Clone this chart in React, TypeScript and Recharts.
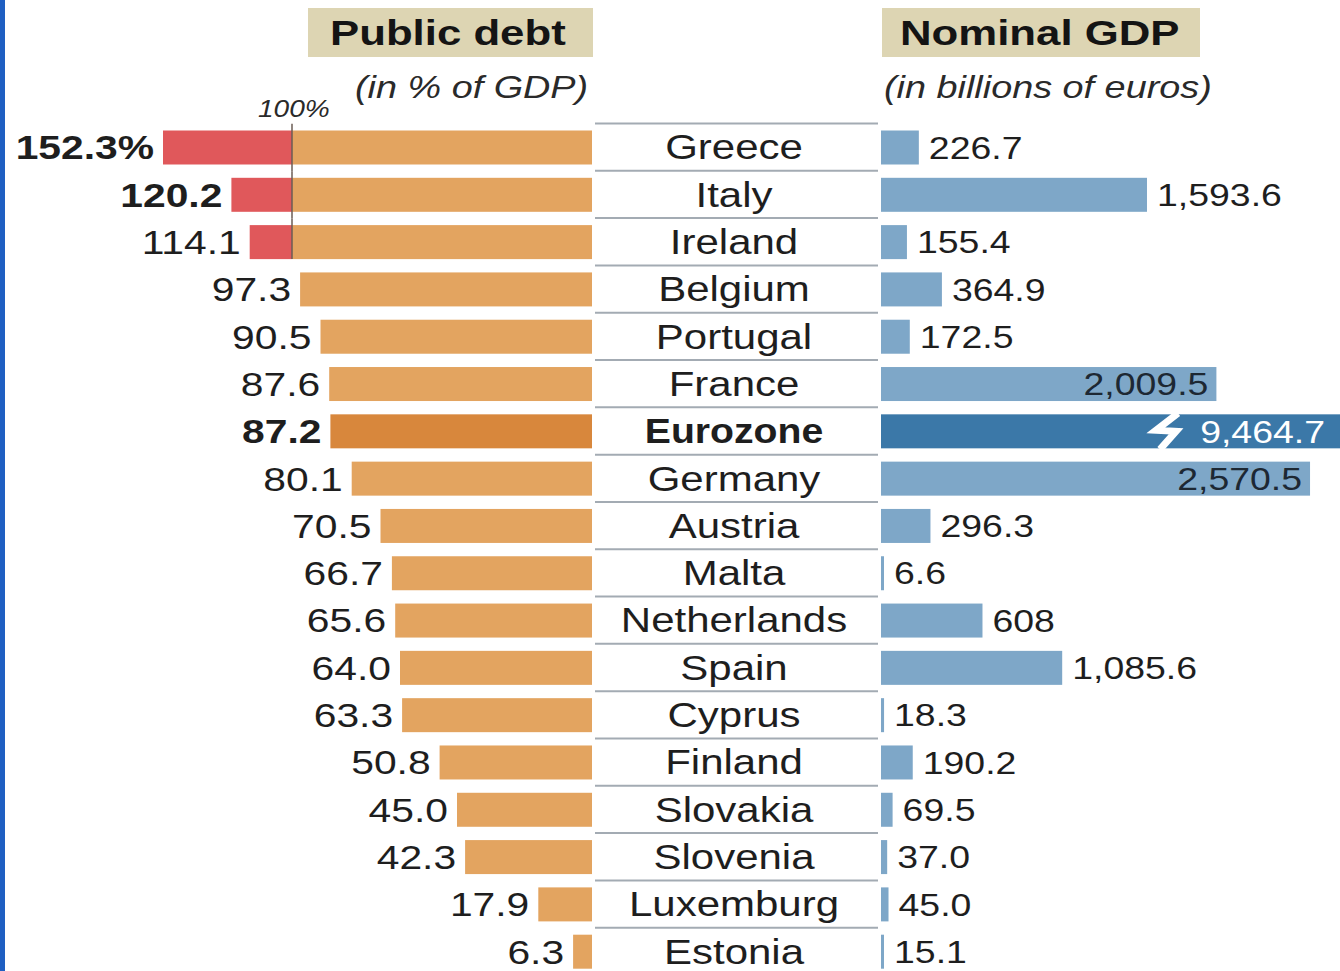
import React from 'react';
import { BarChart, Bar, XAxis, YAxis } from 'recharts';

const countries = ['Greece', 'Italy', 'Ireland', 'Belgium', 'Portugal', 'France', 'Eurozone', 'Germany', 'Austria', 'Malta', 'Netherlands', 'Spain', 'Cyprus', 'Finland', 'Slovakia', 'Slovenia', 'Luxemburg', 'Estonia'];
const debt = [152.3, 120.2, 114.1, 97.3, 90.5, 87.6, 87.2, 80.1, 70.5, 66.7, 65.6, 64.0, 63.3, 50.8, 45.0, 42.3, 17.9, 6.3];
const gdp = [226.7, 1593.6, 155.4, 364.9, 172.5, 2009.5, 9464.7, 2570.5, 296.3, 6.6, 608, 1085.6, 18.3, 190.2, 69.5, 37.0, 45.0, 15.1];
const gdpLabels = ['226.7', '1,593.6', '155.4', '364.9', '172.5', '2,009.5', '9,464.7', '2,570.5', '296.3', '6.6', '608', '1,085.6', '18.3', '190.2', '69.5', '37.0', '45.0', '15.1'];
const boldDebt = ['Greece', 'Italy', 'Eurozone'];
const HIGHLIGHT = 'Eurozone';

const DEBT_MAX = 143;
const GDP_MAX = 2750;
const THRESHOLD = 100;

const H = 975;
const TOP = 123.5;
const ROW = (H - TOP) / countries.length;
const BAR = 34;
const FONT = 'Liberation Sans, Arial, Helvetica, sans-serif';
const RIGHT_W = 460;

const data = countries.map((c, i) => ({ country: c, debt: debt[i], gdp: gdp[i] }));

const STxt = ({ x, y, sx = 1.2, anchor = 'start', size = 34, weight = 400, fill = '#1e1e1e', italic = false, children }: any) => (
  <text
    transform={`translate(${x},${y}) scale(${sx},1)`}
    textAnchor={anchor}
    dy="0.35em"
    fontSize={size}
    fontWeight={weight}
    fontStyle={italic ? 'italic' : 'normal'}
    fill={fill}
    fontFamily={FONT}
  >
    {children}
  </text>
);

const NameTick = (props: any) => {
  const { x, y, payload } = props;
  const name = payload.value;
  const bold = name === HIGHLIGHT;
  return (
    <g>
      <line x1={x + 3} x2={x + 286} y1={y - ROW / 2} y2={y - ROW / 2} stroke="#a3abb3" strokeWidth={2} />
      <STxt x={x + 142} y={y} anchor="middle" size={35} sx={bold ? 1.12 : 1.2} weight={bold ? 700 : 400}>
        {name}
      </STxt>
    </g>
  );
};

const DebtBar = (props: any) => {
  const { x, y, width, height, payload, index } = props;
  const left = Math.min(x, x + width);
  const w = Math.abs(width);
  const right = left + w;
  const shown = Math.min(payload.debt, DEBT_MAX);
  const ppu = shown > 0 ? w / shown : 0;
  const isHi = payload.country === HIGHLIGHT;
  const base = isHi ? '#d8873c' : '#e3a460';
  const cy = y + height / 2;
  const label = index === 0 ? `${payload.debt.toFixed(1)}%` : payload.debt.toFixed(1);
  const bold = boldDebt.includes(payload.country);
  const gap = (ROW - height) / 2;
  if (payload.debt > THRESHOLD) {
    const x100 = right - THRESHOLD * ppu;
    const nextOver = index + 1 < debt.length && debt[index + 1] > THRESHOLD;
    return (
      <g>
        <rect x={left} y={y} width={x100 - left} height={height} fill="#e0585b" />
        <rect x={x100} y={y} width={right - x100} height={height} fill={base} />
        <line x1={x100} x2={x100} y1={y - gap} y2={y + height + (nextOver ? gap : 0)} stroke="#6b5c55" strokeWidth={1.5} />
        <STxt x={left - 9} y={cy} anchor="end" weight={bold ? 700 : 400}>{label}</STxt>
      </g>
    );
  }
  return (
    <g>
      <rect x={left} y={y} width={w} height={height} fill={base} />
      <STxt x={left - 9} y={cy} anchor="end" weight={bold ? 700 : 400}>{label}</STxt>
    </g>
  );
};

const GdpBar = (props: any) => {
  const { x, y, width, height, payload, index } = props;
  const left = Math.min(x, x + width);
  const w = Math.max(Math.abs(width), 3);
  const right = left + w;
  const over = payload.gdp > GDP_MAX;
  const isHi = payload.country === HIGHLIGHT;
  const fill = isHi ? '#3b78a8' : '#7ea7c8';
  const label = gdpLabels[index];
  const estW = label.length * 32 * 0.556 * 1.17;
  const inside = over || right + 10 + estW > RIGHT_W;
  const cy = y + height / 2;
  const bx = right - 178;
  return (
    <g>
      <rect x={left} y={y} width={w} height={height} fill={fill} />
      {over && (
        <polyline
          points={`${bx + 16},${y - 1} ${bx - 6},${y + 16} ${bx + 14},${y + 17} ${bx - 2},${y + height + 1}`}
          fill="none"
          stroke="#ffffff"
          strokeWidth={7}
          strokeLinejoin="miter"
        />
      )}
      {inside ? (
        <STxt x={right - (over ? 15 : 8)} y={cy} anchor="end" size={32} sx={1.17} fill={over ? '#ffffff' : '#1d2833'}>{label}</STxt>
      ) : (
        <STxt x={right + 10} y={cy} size={32} sx={1.17}>{label}</STxt>
      )}
    </g>
  );
};

export default function App() {
  return (
    <div style={{ position: 'absolute', left: 0, top: 0, width: 1340, height: 971, overflow: 'hidden', background: '#ffffff' }}>
      <div style={{ position: 'absolute', left: 0, top: 0 }}>
        <BarChart width={880} height={H} data={data} layout="vertical" margin={{ top: TOP, right: 0, bottom: 0, left: 163 }} barCategoryGap={0}>
          <XAxis type="number" hide domain={[0, DEBT_MAX]} reversed />
          <YAxis
            type="category"
            dataKey="country"
            orientation="right"
            width={288}
            axisLine={false}
            tickLine={false}
            tickSize={0}
            tickMargin={0}
            interval={0}
            tick={<NameTick />}
          />
          <Bar dataKey={(d: any) => Math.min(d.debt, DEBT_MAX)} barSize={BAR} shape={<DebtBar />} isAnimationActive={false} />
        </BarChart>
      </div>
      <div style={{ position: 'absolute', left: 880, top: 0 }}>
        <BarChart width={RIGHT_W} height={H} data={data} layout="vertical" margin={{ top: TOP, right: 0, bottom: 0, left: 1 }} barCategoryGap={0}>
          <XAxis type="number" hide domain={[0, GDP_MAX]} />
          <YAxis type="category" dataKey="country" hide />
          <Bar dataKey={(d: any) => Math.min(d.gdp, GDP_MAX)} barSize={BAR} shape={<GdpBar />} isAnimationActive={false} />
        </BarChart>
      </div>
      <svg width={1340} height={971} style={{ position: 'absolute', left: 0, top: 0, pointerEvents: 'none' }}>
        <rect x={0} y={0} width={5} height={971} fill="#1f5fc2" />
        <rect x={308} y={8} width={285} height={49} fill="#ddd5b3" />
        <rect x={882} y={8} width={318} height={49} fill="#ddd5b3" />
        <text transform="translate(330,45) scale(1.25,1)" fontSize={35} fontWeight={700} fill="#141414" fontFamily={FONT}>Public debt</text>
        <text transform="translate(900,45) scale(1.25,1)" fontSize={35} fontWeight={700} fill="#141414" fontFamily={FONT}>Nominal GDP</text>
        <text transform="translate(355,98) scale(1.22,1)" fontSize={31} fontStyle="italic" fill="#2a2a2a" fontFamily={FONT}>(in % of GDP)</text>
        <text transform="translate(884,98) scale(1.22,1)" fontSize={31} fontStyle="italic" fill="#2a2a2a" fontFamily={FONT}>(in billions of euros)</text>
        <text transform="translate(258,117) scale(1.22,1)" fontSize={23} fontStyle="italic" fill="#2a2a2a" fontFamily={FONT}>100%</text>
      </svg>
    </div>
  );
}
